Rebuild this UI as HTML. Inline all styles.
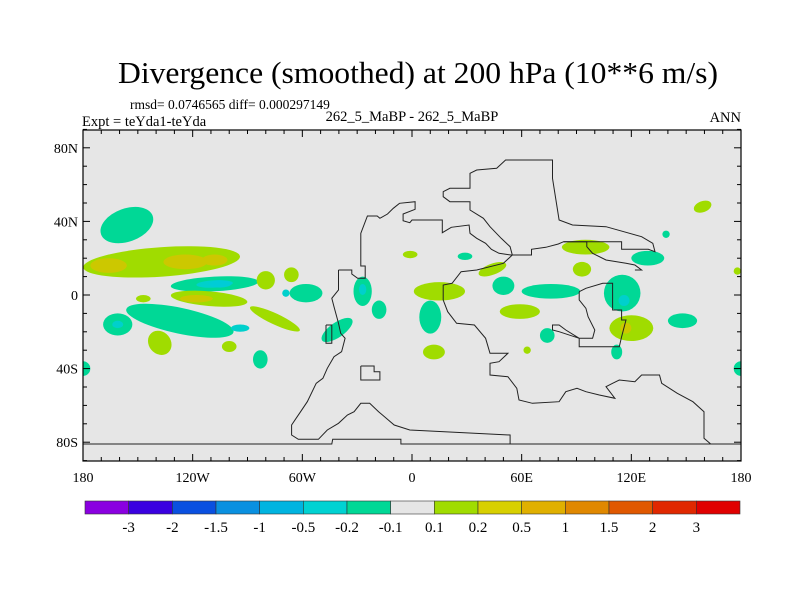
<!DOCTYPE html>
<html><head><meta charset="utf-8"><style>
body{margin:0;background:#fff;width:800px;height:600px;overflow:hidden}
svg text{font-family:"Liberation Serif",serif;fill:#000}
</style></head><body>
<svg id="chart" width="800" height="600" viewBox="0 0 800 600">
<text x="418" y="83" font-size="31" text-anchor="middle" textLength="600" lengthAdjust="spacingAndGlyphs">Divergence (smoothed) at 200 hPa (10**6 m/s)</text>
<text x="130" y="109" font-size="13.5">rmsd= 0.0746565 diff= 0.000297149</text>
<text x="82" y="126" font-size="14.5">Expt = teYda1-teYda</text>
<text x="412" y="121" font-size="14.5" text-anchor="middle">262_5_MaBP - 262_5_MaBP</text>
<text x="741" y="122" font-size="14.5" text-anchor="end">ANN</text>
<defs><clipPath id="pc"><rect x="83" y="130" width="658" height="331"/></clipPath></defs>
<rect x="83" y="130" width="658" height="331" fill="#e6e6e6"/>
<g id="blobs" clip-path="url(#pc)"></g>
<g id="coast" clip-path="url(#pc)" fill="none" stroke="#222" stroke-width="1"></g>
<g id="axes"></g>
<rect x="83" y="130" width="658" height="331" fill="none" stroke="#000" stroke-width="1.2"/>
<g id="cbar"></g>
</svg>
<script>
const NS='http://www.w3.org/2000/svg';
const xLon=l=>83+(l+180)*658/360;
const yLat=l=>295-l*1.84;
// blob data: lon, lat, radius lon, radius lat, rotation, level
const blobLon=[-156,-137,-108,-166,-124,-108,-108,-105,-111,-118,-75,-127,-94,-161,-161,-138,-83,-100,-147,-80,-66,-58,-69,-27,-27,-18,-41,15,-1,29,44,10,12,50,59,76,95,93,115,116,129,159,139,120,117,148,74,112,63,-180,180,178];
const blobLat=[38,18,6,16,18,19,6,6,-2,-2,-13,-14,-18,-16,-16,-26,-35,-28,-2,8,11,1,1,2,3,-8,-19,2,22,21,14,-12,-31,5,-9,2,26,14,1,-3,20,48,33,-18,-18,-14,-22,-31,-30,-40,-40,13];
const blobRx=[15,43,10,10,12,7,24,6,21,9,15,30,5,8,3,6,4,4,4,5,4,9,2,5,2,4,10,14,4,4,8,6,6,6,11,16,13,5,10,3,9,5,2,12,3,8,4,3,2,4,4,2];
const blobRy=[9,8,2,4,4,3,4,2,4,2,3,7,2,6,2,7,5,3,2,5,4,5,2,8,3,5,4,5,2,2,3,9,4,5,4,4,4,4,10,3,4,3,2,7,3,4,4,4,2,4,4,2];
const blobRot=[-20,-4,-3,0,0,0,-3,0,5,0,25,12,0,0,0,-40,0,0,0,0,0,0,0,0,0,0,-35,0,0,0,-20,0,0,0,0,0,0,0,0,0,0,-20,0,0,0,0,0,0,0,0,0,0];
const blobLevel=[1,2,0,3,3,3,1,-1,2,3,2,1,0,1,0,2,1,2,2,2,2,1,0,1,0,1,1,2,2,1,2,1,2,1,2,1,2,2,1,0,1,2,1,2,3,1,1,1,2,1,1,2];
const levelColor={'-1':'#00ccd6','0':'#00d0cc','1':'#00d896','2':'#a0dc00','3':'#ccc800'};
const bg=document.getElementById('blobs');
const sx=658/360, sy=1.84;
const rank=v=>(v<=0?9:v);
const order=[...blobLon.keys()].sort((a,b)=>rank(blobLevel[a])-rank(blobLevel[b]));
for(const i of order){
  const e=document.createElementNS(NS,'ellipse');
  
  
  const cx=xLon(blobLon[i]), cy=yLat(blobLat[i]);
  e.setAttribute('cx',cx);e.setAttribute('cy',cy);
  e.setAttribute('rx',blobRx[i]*sx);e.setAttribute('ry',blobRy[i]*sy);
  e.setAttribute('transform',`rotate(${blobRot[i]} ${cx} ${cy})`);
  e.setAttribute('fill',levelColor[blobLevel[i]]);
  bg.appendChild(e);
}
const zx=v=>83+(v-52)/2.243, zy=v=>90+v/3;
const lines=[
[[625,540],[655,540],[655,552],[668,565],[685,565],[685,528],[675,528],[675,430],[690,378],[712,378],[718,385],[735,372],[748,355],[762,340],[797,335],[797,358],[770,372],[770,392],[785,398],[790,390],[858,390],[858,428],[878,412],[918,405],[920,430],[935,445],[955,460],[968,478],[985,490],[1012,495],[1058,495],[1058,478],[1090,472],[1118,462],[1130,455],[1260,455],[1260,478],[1320,478],[1335,485],[1330,460],[1305,440],[1225,410],[1150,405],[1120,390],[1105,265],[1105,210],[1000,210],[980,235],[935,240],[920,250],[920,295],[875,295],[860,305],[860,320],[875,335],[920,335],[920,360],[950,385],[965,410],[990,445],[1010,470],[1015,495]],
[[1130,455],[1182,455],[1182,470],[1195,490],[1225,510],[1270,520],[1290,525],[1305,540],[1290,540]],
[[625,540],[625,600],[610,625],[615,650],[625,700],[630,730],[640,745],[632,785],[615,800],[600,835],[590,865],[575,880],[555,935],[540,965],[530,985],[520,1005],[520,1035],[535,1048],[580,1048],[600,1020],[625,1000],[645,975],[660,965],[675,940],[695,940],[715,965],[750,1005],[785,1020],[1010,1035],[1010,1062],[765,1062],[765,1048],[612,1048],[610,1062],[40,1062]],
[[1010,1062],[1460,1062],[1445,1045],[1445,965],[1420,935],[1385,910],[1350,880],[1345,855],[1305,855],[1290,875],[1255,870],[1240,880],[1225,890],[1245,925],[1210,915],[1180,905],[1160,895],[1135,905],[1120,935],[1060,940],[1030,930],[1025,895],[1005,860],[965,855],[965,820],[985,815],[1005,790],[965,790],[955,745],[930,705],[890,700],[870,665],[860,630],[860,585],[880,580],[900,545],[935,540],[995,520],[1015,495]],
[[1460,1062],[1540,1062]],
[[1165,605],[1180,595],[1218,580],[1240,580],[1240,660],[1260,660],[1260,690],[1270,690],[1260,740],[1255,770],[1165,770],[1165,745],[1135,720],[1120,705],[1105,705],[1105,720],[1120,725],[1165,745],[1195,745],[1200,720],[1185,680],[1180,655],[1165,630],[1165,605]],
[[675,828],[705,828],[705,845],[718,845],[718,870],[675,870],[675,828]],
[[597,705],[610,705],[610,760],[597,760],[597,705]]
];
const cg=document.getElementById('coast');
lines.forEach(l=>{const p=document.createElementNS(NS,'polyline');


p.setAttribute('points',l.map(q=>zx(q[0]).toFixed(1)+','+zy(q[1]).toFixed(1)).join(' '));cg.appendChild(p);});
const lonTicks=[-180,-120,-60,0,60,120,180], lonLabels=['180','120W','60W','0','60E','120E','180'];
const latTicks=[80,40,0,-40,-80], latLabels=['80N','40N','0','40S','80S'];
const ag=document.getElementById('axes');
function ln(x1,y1,x2,y2){const l=document.createElementNS(NS,'line');l.setAttribute('x1',x1);l.setAttribute('y1',y1);l.setAttribute('x2',x2);l.setAttribute('y2',y2);l.setAttribute('stroke','#000');

ag.appendChild(l);}
function tx(x,y,s,a,name){const t=document.createElementNS(NS,'text');t.setAttribute('x',x);t.setAttribute('y',y);t.setAttribute('font-size','14');t.setAttribute('text-anchor',a);t.textContent=s;

ag.appendChild(t);}
for(let l=-180;l<=180;l+=10){const x=xLon(l),len=l%60===0?7:4;ln(x,461,x,461-len);ln(x,130,x,130+len);}
for(let l=-90;l<=90;l+=10){const y=yLat(l),len=l%40===0?7:4;ln(83,y,83+len,y);ln(741,y,741-len,y);}
lonTicks.forEach((l,i)=>tx(xLon(l),482,lonLabels[i],'middle','x-tick-label'));
latTicks.forEach((l,i)=>tx(78,yLat(l)+5,latLabels[i],'end','y-tick-label'));
const cbColors=['#8a00e0','#3a00e0','#0a50e0','#0a90e0','#00b4e0','#00d2d2','#00d896','#e6e6e6','#a0dc00','#d8d000','#e0b000','#e08800','#e05800','#e02800','#e00000'];
const cbLabels=['-3','-2','-1.5','-1','-0.5','-0.2','-0.1','0.1','0.2','0.5','1','1.5','2','3'];
const cb=document.getElementById('cbar');const w=655/15;
cbColors.forEach((c,i)=>{const r=document.createElementNS(NS,'rect');r.setAttribute('x',85+i*w);r.setAttribute('y',501);r.setAttribute('width',w);r.setAttribute('height',13);r.setAttribute('fill',c);r.setAttribute('stroke','#333');r.setAttribute('stroke-width','0.6');

cb.appendChild(r);});
cbLabels.forEach((s,i)=>{const t=document.createElementNS(NS,'text');t.setAttribute('x',85+(i+1)*w);t.setAttribute('y',532);t.setAttribute('font-size','15');t.setAttribute('text-anchor','middle');t.textContent=s;

cb.appendChild(t);});
</script>
</body></html>
